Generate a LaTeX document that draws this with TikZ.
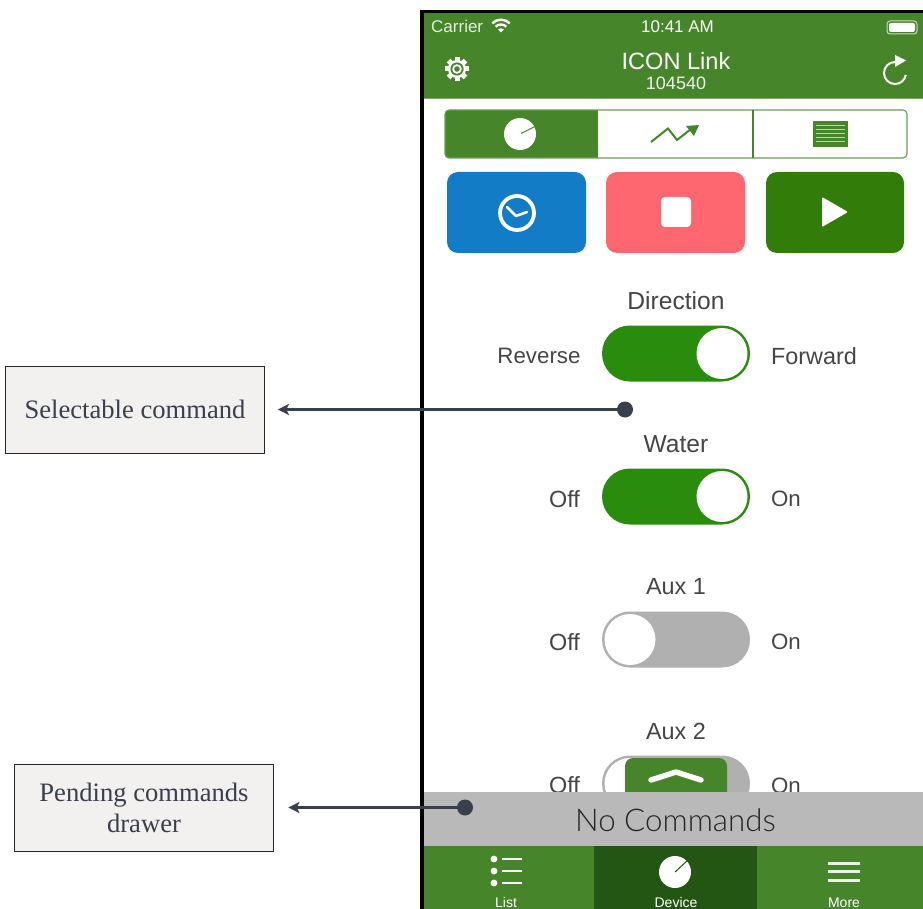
\documentclass[tikz,border=0pt]{standalone}
\usepackage{fontspec}
\setmainfont{Liberation Sans}
\newfontfamily\serifcall{Liberation Serif}
\newfontfamily\lightfont{Lato Light}
\usetikzlibrary{arrows.meta}
\definecolor{hdr}{HTML}{47852A}
\definecolor{hdrdark}{HTML}{235612}
\definecolor{barg}{HTML}{B9B9B9}
\definecolor{blueb}{HTML}{127CC6}
\definecolor{redb}{HTML}{FF6770}
\definecolor{greenb}{HTML}{327D0A}
\definecolor{tog}{HTML}{2A8C0C}
\definecolor{togoff}{HTML}{B0B0B0}
\definecolor{ink}{HTML}{3A3F4C}
\definecolor{lab}{HTML}{454545}
\definecolor{boxf}{HTML}{F2F1F0}
\tikzset{
  x=1pt,y=-1pt,
  callout/.style={draw=black!85,line width=0.8pt,fill=boxf,text=ink,align=center,font=\serifcall\fontsize{26.6}{31}\selectfont,inner sep=0pt},
  pin/.style={circle,fill=ink,inner sep=0pt,minimum size=16pt},
  lead/.style={draw=ink,line width=2.2pt,-{Stealth[length=11pt,width=11pt,inset=2.5pt]}},
  uilabel/.style={text=lab,font=\fontsize{23.4}{26}\selectfont,inner sep=0pt},
  uititle/.style={text=lab,font=\fontsize{24.6}{26}\selectfont,inner sep=0pt},
  white label/.style={text=white,inner sep=0pt},
  cmdbtn/.style={rounded corners=11pt},
}
\newcommand{\toggleon}[1]{%
  \fill[tog,rounded corners=27.9pt] (602,#1-28) rectangle (750,#1+28);
  \fill[white] (722,#1) circle (25.5);
}
\newcommand{\toggleoff}[1]{%
  \fill[togoff,rounded corners=27.9pt] (602,#1-28) rectangle (750,#1+28);
  \fill[white] (630,#1) circle (25.5);
}
\begin{document}
\begin{tikzpicture}
\useasboundingbox (0,0) rectangle (923,909);
\fill[white] (0,0) rectangle (923,909);
% phone frame and header
\fill[black] (420,10) rectangle (923,909);
\fill[white] (423.5,13) rectangle (923,909);
\fill[hdr] (423.5,13) rectangle (923,99);
\draw[hdr!70,line width=1pt] (423.5,99) -- (923,99);
% status bar
\node[white label,text=white!85!hdr,anchor=west,font=\fontsize{17}{19}\selectfont] (carrier) at (431,26.5) {Carrier};
\node[white label,font=\fontsize{17}{19}\selectfont] (clock) at (677.5,27) {10:41 AM};
\begin{scope}[white,line width=2.4pt]
\draw (492.3,23.3) arc (-135:-45:12.3);
\draw (495.7,26.7) arc (-135:-45:7.5);
\fill (501,32.5) -- (498,29.5) arc (-135:-45:4.2) -- cycle;
\end{scope}
\draw[white!70!hdr,line width=1pt,rounded corners=3pt] (887,21) rectangle (917,34);
\fill[white,rounded corners=2pt] (889,23) rectangle (915,32);
% title
\node[white label,font=\fontsize{23.6}{28}\selectfont] (title) at (676,61) {ICON Link};
\node[white label,text=white!90!hdr,font=\fontsize{18}{20}\selectfont] (serial) at (676,83) {104540};
% gear
\foreach \a in {0,45,...,315}{\fill[white,rotate around={\a:(457,69)}] (454.5,57) rectangle (459.5,62);}
\fill[white] (457,69) circle (9);
\fill[hdr] (457,69) circle (6.6);
\fill[white] (457,69) circle (4.8);
\fill[hdr] (457,69) circle (2.8);
% refresh
\draw[white,line width=2pt] (895,62) arc (-90:-350:11);
\fill[white] (895,55) -- (906,60.5) -- (895,67) -- cycle;
% segmented control
\fill[white] (445,110) rectangle (907,158);
\fill[hdr,rounded corners=4pt] (445,110) rectangle (470,158);
\fill[hdr] (455,110) rectangle (598,158);
\draw[hdr!80,line width=1.1pt,rounded corners=4pt] (445,110) rectangle (907,158);
\draw[hdr,line width=1.1pt] (753,110) -- (753,158);
\fill[white] (520,134) circle (16);
\draw[hdr,line width=1pt] (521,133.5) -- (535,126.5);
\draw[hdr,line width=2pt] (651,142) -- (668,128.5) -- (677,140) -- (691,129);
\fill[hdr] (699,125) -- (686,126) -- (694,136) -- cycle;
\fill[hdr] (813,121) rectangle (848,147);
\foreach \yy in {125,129,133,137,141}{\draw[white,line width=0.9pt,opacity=.65] (816,\yy) -- (845,\yy);}
% command buttons
\fill[blueb,cmdbtn] (447,172) rectangle (586,253);
\fill[redb,cmdbtn] (606,172) rectangle (745,253);
\fill[greenb,cmdbtn] (766,172) rectangle (904,253);
\draw[white,line width=3.8pt] (517,213) circle (17);
\draw[white,line width=2.6pt,line join=round,line cap=round] (507,207) -- (516,216) -- (527,212);
\fill[white,rounded corners=4pt] (661,197) rectangle (691,227);
\fill[white,rounded corners=1pt] (822,197) -- (848,212) -- (822,227) -- cycle;
% toggles
\node[uititle] (dir) at (676,301) {Direction};
\node[uilabel,font=\fontsize{22.3}{26}\selectfont] (rev) at (539,356) {Reverse};
\node[uilabel] (fwd) at (814,356) {Forward};
\toggleon{353.5}
\node[uititle] (water) at (676,444) {Water};
\node[uilabel] (off1) at (564.5,499) {Off};
\node[uilabel,font=\fontsize{22.3}{26}\selectfont] (on1) at (786,499) {On};
\toggleon{496.5}
\node[uilabel] (aux1) at (676,587) {Aux 1};
\node[uilabel] (off2) at (564.5,642) {Off};
\node[uilabel,font=\fontsize{22.3}{26}\selectfont] (on2) at (786,642) {On};
\toggleoff{639.5}
\node[uilabel] (aux2) at (676,731) {Aux 2};
\node[uilabel] (off3) at (564.5,785.5) {Off};
\node[uilabel,font=\fontsize{22.3}{26}\selectfont] (on3) at (786,785.5) {On};
\toggleoff{783.5}
% drawer handle
\fill[hdr,rounded corners=8pt] (625,758) rectangle (727,810);
\draw[white,line width=5.5pt,line cap=round,line join=round] (651,780) -- (676,772) -- (701,780);
% drawer
\fill[barg] (423.5,792) rectangle (923,846);
\node[text=black!85,inner sep=0pt,font=\lightfont\fontsize{31.3}{36}\selectfont] (nocmd) at (675.5,820) {No Commands};
% tab bar
\fill[hdr] (423.5,846) rectangle (923,909);
\fill[hdrdark] (594,846) rectangle (757,909);
\foreach \yy in {859,871,883}{\fill[white] (494,\yy) circle (3.4); \draw[white,line width=1.2pt] (502,\yy) -- (522,\yy);}
\fill[white] (675,872) circle (16);
\draw[hdrdark,line width=1pt] (675,872) -- (688,860);
\foreach \yy in {863,871.5,880}{\draw[white!90!hdr,line width=3pt] (828,\yy) -- (860,\yy);}
\node[white label,font=\fontsize{14}{15}\selectfont] (tlist) at (506,902.5) {List};
\node[white label,font=\fontsize{14}{15}\selectfont] (tdev) at (676,902.5) {Device};
\node[white label,font=\fontsize{14}{15}\selectfont] (tmore) at (844,902.5) {More};
% callouts
\node[callout,minimum width=259pt,minimum height=87pt] (sel) at (135,409.5) {\raisebox{-1pt}{Selectable command}};
\node[callout,minimum width=259pt,minimum height=87pt] (pend) at (144,807.5) {\raisebox{-1pt}{Pending commands}\\\raisebox{-1pt}{drawer}};
\node[pin] (pin1) at (625,409.5) {};
\node[pin] (pin2) at (465,807.5) {};
\draw[lead] (pin1.center) -- ([xshift=13pt]sel.east);
\draw[lead] (pin2.center) -- ([xshift=14.5pt]pend.east);
\end{tikzpicture}
\end{document}
